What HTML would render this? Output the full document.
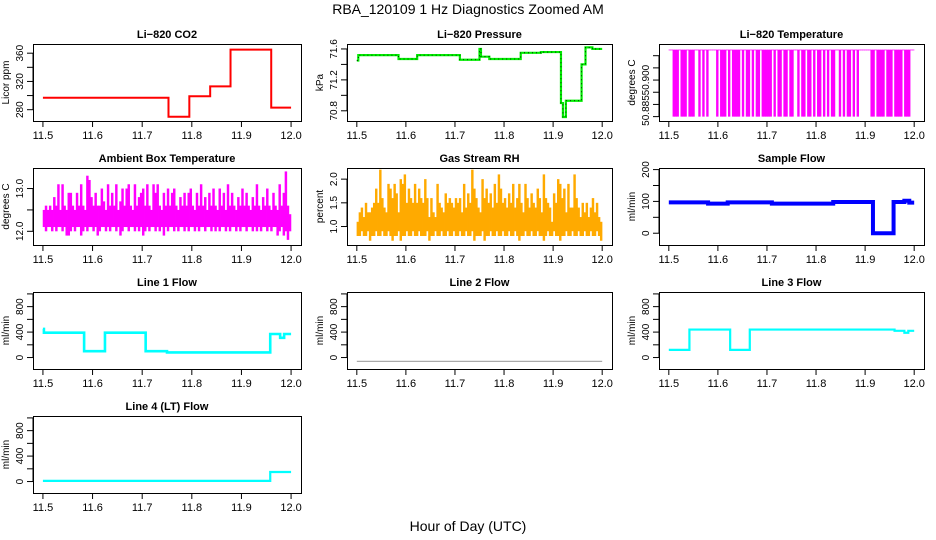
<!DOCTYPE html>
<html><head><meta charset="utf-8"><style>
body{margin:0;background:#fff}
svg{display:block;font-family:"Liberation Sans",Arial,sans-serif}
</style></head><body>
<svg id="chart" width="936" height="540" viewBox="0 0 936 540" xmlns="http://www.w3.org/2000/svg">
<rect width="936" height="540" fill="#fff"/>
<text x="468" y="14" text-anchor="middle" font-size="14">RBA_120109  1 Hz Diagnostics Zoomed AM</text>
<text x="468" y="531" text-anchor="middle" font-size="14">Hour of Day (UTC)</text>
</svg>
<script>
// ---- data arrays ----
const xTicks = [11.5, 11.6, 11.7, 11.8, 11.9, 12.0];
const xTickLabels = ["11.5", "11.6", "11.7", "11.8", "11.9", "12.0"];

const co2Breaks = [11.5, 11.753, 11.795, 11.837, 11.878, 11.96, 12.0];
const co2Values = [297, 270, 299, 313, 365, 283];

const presBreaks = [11.5, 11.503, 11.585, 11.623, 11.71, 11.75, 11.753, 11.77, 11.834, 11.875, 11.916, 11.92, 11.926, 11.958, 11.966, 11.98, 12.0];
const presValues = [71.45, 71.52, 71.47, 71.52, 71.46, 71.6, 71.5, 71.47, 71.55, 71.56, 70.9, 70.72, 70.93, 71.4, 71.62, 71.6];

const tempCodes = [0,0,1,1,1,0,1,1,1,0,1,1,1,0,0,1,0,1,0,1,0,0,0,0,1,0,1,1,1,0,1,0,1,1,1,1,0,1,0,1,1,0,1,0,1,1,0,1,1,1,1,1,0,1,0,1,1,0,1,1,0,1,1,0,0,1,0,1,1,0,1,1,0,1,0,1,1,0,1,0,1,0,1,1,0,0,1,0,1,0,1,1,0,1,0,1,0,0,0,0,0,0,1,1,0,1,1,1,1,0,1,1,1,0,1,1,1,1,0,1,1,1,0,0];
const tempTop = 50.9125;
const tempBottom = 50.885;

const ambHi = [12.5,12.6,12.5,12.6,12.5,12.8,12.6,13.1,12.5,13.1,12.6,12.5,12.9,12.9,12.6,12.5,12.9,12.6,13.1,12.6,
12.5,13.3,13.2,12.8,12.6,12.9,12.6,12.6,13.0,12.7,12.5,13.1,12.6,12.9,12.6,13.1,12.5,12.7,13.0,12.6,
13.0,13.1,12.6,12.5,13.1,12.6,12.8,12.9,13.0,12.6,13.1,12.6,12.5,13.1,12.9,13.1,12.6,12.5,12.9,12.6,
13.0,12.6,12.9,13.0,12.6,12.5,12.8,12.6,12.9,12.6,12.9,13.0,12.6,12.5,12.9,12.6,13.1,12.6,12.8,12.5,
12.9,12.6,13.0,12.6,12.5,13.0,12.6,12.9,12.5,13.1,12.6,12.9,12.6,12.5,12.8,12.6,13.0,12.6,12.9,12.6,
12.5,12.8,12.6,13.1,12.6,12.5,12.8,12.6,13.0,12.6,12.5,12.9,12.6,12.5,13.1,12.6,12.9,13.4,12.6,12.4];
const ambLo = [12.1,12.0,12.1,12.1,12.0,12.1,12.0,12.1,12.1,12.0,12.1,11.9,11.9,12.0,12.1,12.0,12.1,12.1,11.9,12.0,
12.1,12.0,12.1,12.1,12.0,12.1,11.9,12.0,12.1,12.1,12.0,12.1,12.0,12.1,12.1,12.0,12.1,11.9,12.0,12.1,
12.1,12.0,12.1,12.1,12.0,12.1,12.0,12.1,11.9,12.0,12.1,12.0,12.1,12.1,12.0,12.1,12.0,12.1,11.9,12.1,
12.0,12.1,12.1,12.0,12.1,12.0,12.1,12.1,12.0,12.1,12.0,12.1,12.1,12.0,12.1,12.0,12.1,12.1,12.0,12.1,
12.1,12.0,12.1,12.0,12.1,12.0,12.1,12.1,12.0,12.1,12.0,12.1,12.1,12.0,12.1,12.0,12.1,12.1,12.0,12.1,
12.1,12.0,12.1,12.0,12.1,12.0,12.1,12.1,12.0,12.1,12.0,12.1,12.1,11.9,12.0,12.1,11.9,12.0,11.8,12.0];

const rhHi = [1.1,1.3,1.4,1.2,1.5,1.3,1.3,1.4,1.5,1.8,1.5,2.2,1.6,1.4,1.3,1.9,1.8,1.6,1.9,1.7,
1.3,2.0,1.9,2.1,1.5,1.8,1.6,1.5,1.9,1.5,1.8,1.6,1.5,2.0,1.6,1.2,1.6,1.3,1.2,1.9,
1.5,1.4,1.3,1.7,1.5,1.6,1.5,1.4,1.6,1.5,1.6,1.3,1.9,1.4,1.7,1.5,2.2,1.8,1.6,1.4,
1.3,2.0,1.6,1.8,1.5,1.7,1.4,1.9,1.5,2.1,1.8,1.5,1.6,1.4,1.7,1.5,1.9,1.4,1.6,1.9,
1.5,1.3,1.9,1.6,1.4,1.7,1.5,1.4,1.8,1.6,1.3,2.1,1.6,1.5,1.4,1.1,1.7,1.5,2.0,1.9,
1.6,1.8,1.3,1.9,1.4,1.4,2.1,1.6,1.4,1.2,1.5,1.3,1.5,1.2,1.4,1.6,1.3,1.5,1.2,1.1];
const rhLo = [0.8,0.8,0.9,0.8,0.8,0.9,0.7,0.8,0.8,0.9,0.8,0.8,0.9,0.8,0.8,0.9,0.8,0.7,0.8,0.8,
0.9,0.7,0.8,0.8,0.9,0.8,0.8,0.9,0.8,0.8,0.9,0.8,0.8,0.8,0.9,0.7,0.8,0.8,0.9,0.8,
0.8,0.9,0.8,0.8,0.9,0.8,0.8,0.9,0.8,0.8,0.9,0.8,0.8,0.9,0.8,0.8,0.9,0.7,0.8,0.8,
0.8,0.9,0.7,0.8,0.8,0.9,0.8,0.8,0.9,0.8,0.8,0.9,0.8,0.8,0.9,0.8,0.8,0.9,0.8,0.7,
0.8,0.8,0.9,0.8,0.8,0.9,0.8,0.8,0.9,0.8,0.8,0.7,0.8,0.9,0.8,0.8,0.9,0.8,0.8,0.7,
0.8,0.8,0.9,0.8,0.8,0.9,0.8,0.8,0.9,0.8,0.8,0.9,0.8,0.8,0.9,0.8,0.8,0.9,0.8,0.7];

const sampleBreaks = [11.5, 11.58, 11.62, 11.71, 11.835, 11.916, 11.958, 11.98, 11.99, 12.0];
const sampleValues = [97, 93, 97, 93, 98, 0, 98, 102, 96];

const line1Breaks = [11.5, 11.502, 11.583, 11.625, 11.707, 11.75, 11.958, 11.978, 11.986, 12.0];
const line1Values = [450, 390, 100, 390, 100, 80, 370, 310, 370];

const line2Breaks = [11.5, 12.0];
const line2Values = [-60];

const line3Breaks = [11.5, 11.542, 11.625, 11.665, 11.96, 11.98, 11.988, 12.0];
const line3Values = [120, 440, 120, 440, 420, 390, 420];

const line4Breaks = [11.5, 11.958, 12.0];
const line4Values = [10, 150];

// ---- rendering ----
const svg = document.getElementById('chart');
const NS = 'http://www.w3.org/2000/svg';
function mk(tag, attrs, parent) {
  const e = document.createElementNS(NS, tag);
  for (const k in attrs) e.setAttribute(k, attrs[k]);
  (parent || svg).appendChild(e);
  return e;
}
const colLeft = [33, 347, 659], colW = [268, 265, 265];
const rowTop = [44, 168, 292, 416], boxH = 77;

function panel(name, title, col, row, ymin, ymax, yTicks, yLabels, ylab) {
  const g = mk('g', {});
  
  
  const L = colLeft[col], T = rowTop[row], W = colW[col], H = boxH;
  const xs = v => L + (v - 11.48) / 0.54 * W;
  const ys = v => T + H - (v - ymin) / (ymax - ymin) * H;
  const t = mk('text', {x: L + W / 2, y: T - 6, 'text-anchor': 'middle', 'font-size': 11, 'font-weight': 'bold'}, g);
  t.textContent = title;
  
  
  const b = mk('rect', {x: L + .5, y: T + .5, width: W, height: H, fill: 'none', stroke: '#000', 'stroke-width': 1}, g);
  
  
  const xa = mk('g', {}, g);
  
  
  xTicks.forEach((v, i) => {
    mk('line', {x1: xs(v), x2: xs(v), y1: T + H, y2: T + H + 6, stroke: '#000'}, xa);
    const tl = mk('text', {x: xs(v), y: T + H + 18, 'text-anchor': 'middle', 'font-size': 11}, xa);
    tl.textContent = xTickLabels[i];
  });
  const ya = mk('g', {}, g);
  
  
  mk('line', {x1: L, x2: L, y1: ys(yTicks[0]), y2: ys(yTicks[yTicks.length - 1]), stroke: '#000'}, ya);
  yTicks.forEach(v => mk('line', {x1: L - 6, x2: L, y1: ys(v), y2: ys(v), stroke: '#000'}, ya));
  yLabels.forEach(([v, s]) => {
    const tl = mk('text', {x: 0, y: 0, 'text-anchor': 'middle', 'font-size': 10, transform: `translate(${L - 10},${ys(v)}) rotate(-90)`}, ya);
    tl.textContent = s;
  });
  const yl = mk('text', {x: 0, y: 0, 'text-anchor': 'middle', 'font-size': 10, transform: `translate(${L - 24},${T + H / 2}) rotate(-90)`}, g);
  yl.textContent = ylab;
  
  
  const clip = 'c' + name;
  const cp = mk('clipPath', {id: clip}, g);
  mk('rect', {x: L, y: T, width: W + 1, height: H + 1}, cp);
  const data = mk('g', {'clip-path': `url(#${clip})`}, g);
  return {xs, ys, data};
}
function stepPath(p, br, vals) {
  let d = `M${p.xs(br[0])},${p.ys(vals[0])}`;
  for (let i = 0; i < vals.length; i++) {
    if (i > 0) d += `V${p.ys(vals[i])}`;
    d += `H${p.xs(br[i + 1])}`;
  }
  return d;
}
function bars(p, lo, hi, color, name) {
  const n = lo.length, w = (p.xs(12) - p.xs(11.5)) / n;
  const g = mk('g', {}, p.data);
  
  
  for (let i = 0; i < n; i++) {
    const x = p.xs(11.5 + (i + 0.5) * 0.5 / n);
    mk('line', {x1: x, x2: x, y1: p.ys(lo[i]), y2: p.ys(hi[i]), stroke: color, 'stroke-width': w + 0.4}, g);
  }
}

// CO2
let p = panel('co2-panel', 'Li\u2212820 CO2', 0, 0, 264, 373, [280, 300, 320, 340, 360], [[280, '280'], [320, '320'], [360, '360']], 'Licor ppm');
let e = mk('path', {d: stepPath(p, co2Breaks, co2Values), fill: 'none', stroke: '#ff0000', 'stroke-width': 2}, p.data);



// Pressure
p = panel('pressure-panel', 'Li\u2212820 Pressure', 1, 0, 70.668, 71.664, [70.8, 71.0, 71.2, 71.4, 71.6], [[70.8, '70.8'], [71.2, '71.2'], [71.6, '71.6']], 'kPa');
e = mk('path', {d: stepPath(p, presBreaks, presValues), fill: 'none', stroke: '#00ee00', 'stroke-width': 2.2}, p.data);


e = mk('path', {d: stepPath(p, presBreaks, presValues), fill: 'none', stroke: '#000', 'stroke-width': 0.8, 'stroke-dasharray': '1,3'}, p.data);



// Li-820 temperature
p = panel('li820-temp-panel', 'Li\u2212820 Temperature', 2, 0, 50.8832, 50.9148, [50.885, 50.890, 50.895, 50.900, 50.905, 50.910], [[50.8875, '50.885'], [50.9, '50.900']], 'degrees C');
{
  const lo = tempCodes.map(c => c ? tempBottom : tempTop - 0.0003);
  const hi = tempCodes.map(() => tempTop);
  bars(p, lo, hi, '#ff00ff', 'temperature-series');
}

// Ambient
p = panel('ambient-temp-panel', 'Ambient Box Temperature', 0, 1, 11.68, 13.48, [12.0, 12.5, 13.0], [[12.0, '12.0'], [13.0, '13.0']], 'degrees C');
bars(p, ambLo, ambHi, '#ff00ff', 'ambient-temp-series');

// RH
p = panel('rh-panel', 'Gas Stream RH', 1, 1, 0.61, 2.235, [1.0, 1.5, 2.0], [[1.0, '1.0'], [1.5, '1.5'], [2.0, '2.0']], 'percent');
bars(p, rhLo, rhHi, '#ffaa00', 'rh-series');

// Sample flow
p = panel('sample-flow-panel', 'Sample Flow', 2, 1, -37, 205, [0, 50, 100, 150, 200], [[0, '0'], [100, '100'], [200, '200']], 'ml/min');
e = mk('path', {d: stepPath(p, sampleBreaks, sampleValues), fill: 'none', stroke: '#0000ff', 'stroke-width': 4}, p.data);



const flowTicks = [0, 200, 400, 600, 800, 1000];
const flowLabels = [[0, '0'], [400, '400'], [800, '800']];
function flowPanel(name, title, col, row, br, vals, color, sw) {
  const q = panel(name, title, col, row, -180, 1030, flowTicks, flowLabels, 'ml/min');
  const l = mk('path', {d: stepPath(q, br, vals), fill: 'none', stroke: color, 'stroke-width': sw}, q.data);
  
  
}
flowPanel('line1-flow-panel', 'Line 1 Flow', 0, 2, line1Breaks, line1Values, '#00ffff', 2.6);
flowPanel('line2-flow-panel', 'Line 2 Flow', 1, 2, line2Breaks, line2Values, '#aaaaaa', 1.2);
flowPanel('line3-flow-panel', 'Line 3 Flow', 2, 2, line3Breaks, line3Values, '#00ffff', 2.2);
flowPanel('line4-flow-panel', 'Line 4 (LT) Flow', 0, 3, line4Breaks, line4Values, '#00ffff', 2.2);
</script>
</body></html>
